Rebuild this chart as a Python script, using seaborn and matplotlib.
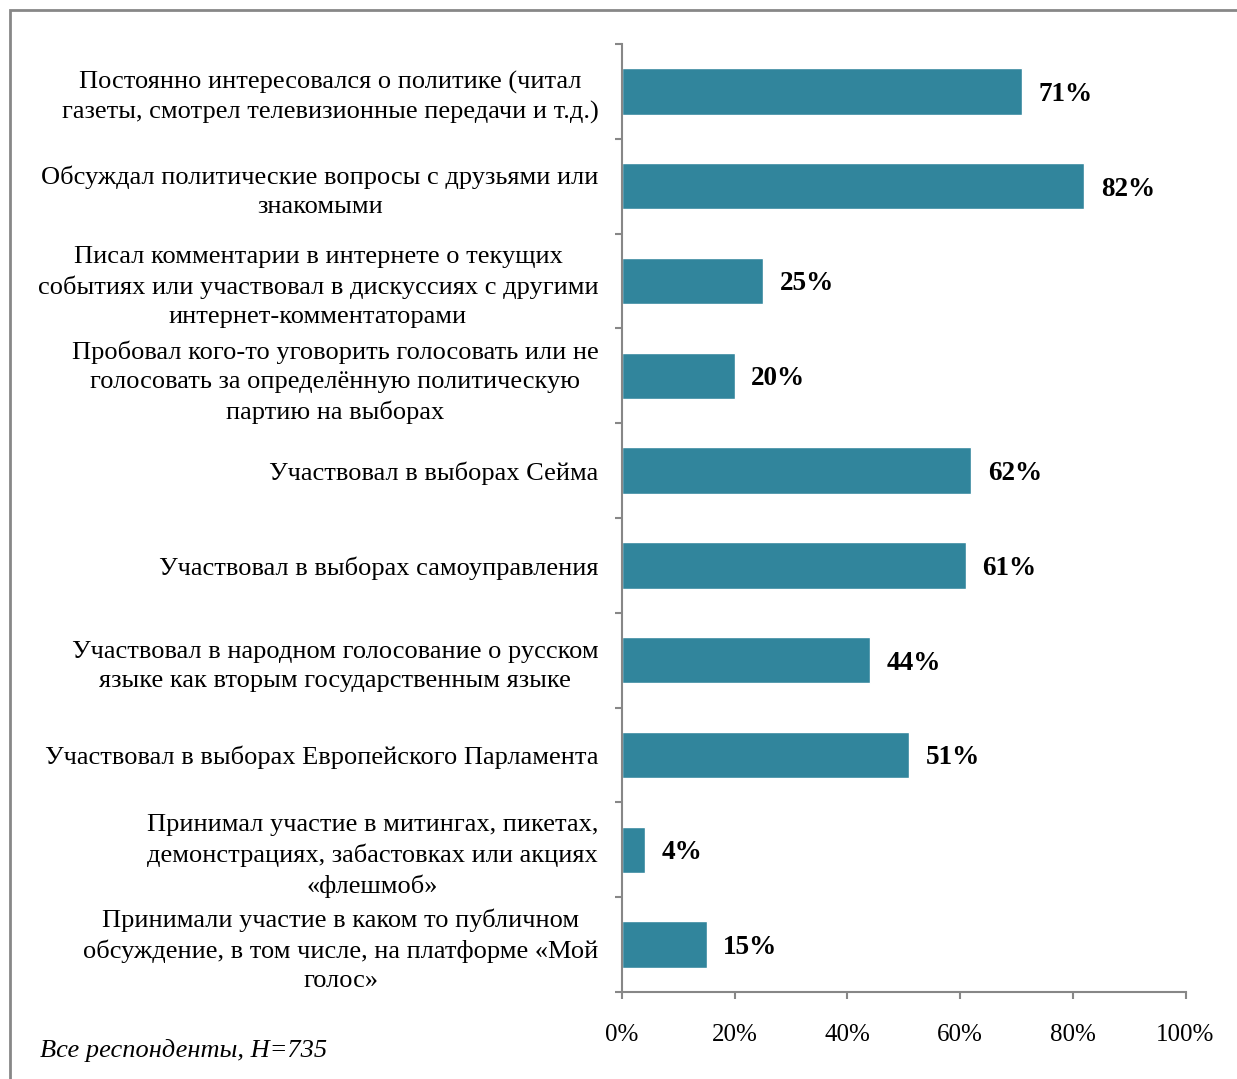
import numpy as np
import pandas as pd
import seaborn as sns
import matplotlib.pyplot as plt
from matplotlib.patches import Rectangle

labels = [
    "Постоянно интересовался о политике (читал\nгазеты, смотрел телевизионные передачи и т.д.)",
    "Обсуждал политические вопросы с друзьями или\nзнакомыми",
    "Писал комментарии в интернете о текущих\nсобытиях или участвовал в дискуссиях с другими\nинтернет-комментаторами",
    "Пробовал кого-то уговорить голосовать или не\nголосовать за определённую политическую\nпартию на выборах",
    "Участвовал в выборах Сейма",
    "Участвовал в выборах самоуправления",
    "Участвовал в народном голосование о русском\nязыке как вторым государственным языке",
    "Участвовал в выборах Европейского Парламента",
    "Принимал участие в митингах, пикетах,\nдемонстрациях, забастовках или акциях\n«флешмоб»",
    "Принимали участие в каком то публичном\nобсуждение, в том числе, на платформе «Мой\nголос»",
]
values = [71, 82, 25, 20, 62, 61, 44, 51, 4, 15]
xticks = [0, 20, 40, 60, 80, 100]
note = "Все респонденты, Н=735"

df = pd.DataFrame({"label": labels, "value": values})

sns.set_style("white")
plt.rcParams["font.family"] = ["Liberation Serif", "DejaVu Serif"]
plt.rcParams["text.color"] = "black"
plt.rcParams["xtick.color"] = "black"
plt.rcParams["ytick.color"] = "black"

grey = "#878787"
fig = plt.figure(figsize=(12.37, 10.79), dpi=100)
ax = fig.add_axes([0.5028, 0.0806, 0.4556, 0.8786])

sns.barplot(data=df, y="label", x="value", orient="h", color="#31859c",
            saturation=1, width=0.49, ax=ax)

for i, v in enumerate(values):
    ax.annotate(f"{v}%", (v, i), xytext=(12, -2), textcoords="offset points",
                va="center", ha="left", fontsize=19.5, fontweight="bold")

ax.set_xlim(0, 100)
ax.set_ylim(len(values) - 0.5, -0.5)
ax.set_xticks(xticks)
ax.set_xticklabels([f"{t}%" for t in xticks], fontsize=18)
ax.set_yticks(range(len(labels)))
ax.set_yticklabels(labels, fontsize=19, multialignment="center", linespacing=1.4)
ax.set_yticks(np.arange(-0.5, len(labels)), minor=True)
ax.tick_params(axis="y", which="major", length=0, pad=17)
ax.tick_params(axis="y", which="minor", length=5, color=grey, width=1.5, direction="out", left=True)
ax.tick_params(axis="x", length=5, color=grey, width=1.5, direction="out", pad=18, bottom=True)
ax.set_xlabel("")
ax.set_ylabel("")
for s in ["top", "right"]:
    ax.spines[s].set_visible(False)
for s in ["left", "bottom"]:
    ax.spines[s].set_color(grey)
    ax.spines[s].set_linewidth(1.5)

fig.text(40 / 1237, 1 - 1050 / 1079, note, fontsize=19, style="italic", va="center")

fig.patches.append(Rectangle((10 / 1237, -0.05), 1.2, 1 - 10 / 1079 + 0.05,
                             transform=fig.transFigure, fill=False,
                             edgecolor=grey, linewidth=2))

fig.savefig("out.png", dpi=100)
